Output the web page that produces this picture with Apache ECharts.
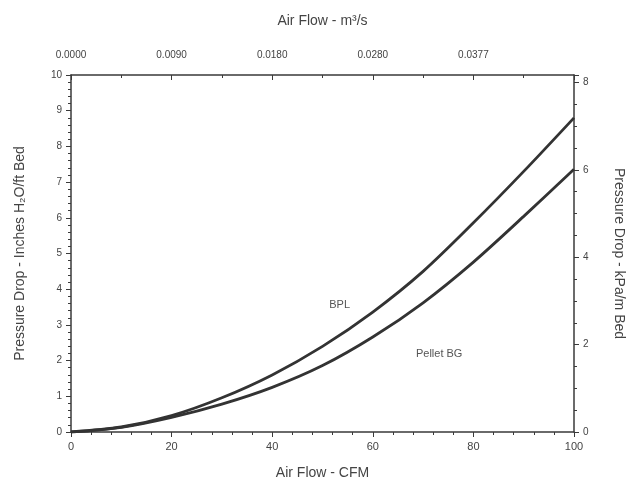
<!DOCTYPE html>
<html>
<head>
<meta charset="utf-8">
<script src="https://cdn.jsdelivr.net/npm/echarts@6/dist/echarts.min.js"></script>
<style>
  html, body { margin: 0; padding: 0; background: #fff; }
  #main { width: 634px; height: 489px; }
</style>
</head>
<body>
<div id="main"></div>
<script>
// air flow (CFM) sample points
var cfm = [0, 10, 20, 30, 40, 50, 60, 70, 80, 90, 100];
// pressure drop, inches H2O / ft bed
var bpl = [0, 0.14, 0.46, 0.96, 1.6, 2.4, 3.36, 4.5, 5.86, 7.3, 8.8];
var pelletBG = [0, 0.13, 0.41, 0.78, 1.25, 1.86, 2.66, 3.62, 4.76, 6.04, 7.36];
// top axis labels (m3/s) at 0, 20, 40, 60, 80 CFM
var topLabels = ['0.0000', '0.0090', '0.0180', '0.0280', '0.0377'];
// right axis: kPa/m, 10 in/ft = 8.172 kPa/m
var rightMax = 8.172;

var axisColor = '#3a3a3a';
var textColor = '#444';
var font = 'Liberation Sans';

function pairs(xs, ys) {
    var out = [];
    for (var i = 0; i < xs.length; i++) {
        out.push([xs[i], ys[i]]);
    }
    return out;
}

// curve label placed at a data coordinate
function curveLabel(x, y, text) {
    return {
        symbol: 'circle',
        symbolSize: 1,
        itemStyle: { color: 'rgba(0,0,0,0)' },
        label: { show: true, position: 'inside', color: '#555', fontSize: 11, fontFamily: font, formatter: text },
        data: [{ coord: [x, y] }]
    };
}

var chart = echarts.init(document.getElementById('main'));

var option = {
    backgroundColor: '#fff',
    animation: false,
    textStyle: { fontFamily: font },
    grid: { left: 71, right: 59, top: 75, bottom: 57 },
    xAxis: [{
        type: 'value',
        position: 'bottom',
        min: 0,
        max: 100,
        interval: 20,
        name: 'Air Flow - CFM',
        nameLocation: 'middle',
        nameGap: 34,
        nameTextStyle: { color: textColor, fontSize: 14, fontFamily: font },
        axisLine: { show: true, onZero: false, lineStyle: { color: axisColor, width: 1.5 } },
        axisTick: { show: true, length: 5, lineStyle: { color: axisColor } },
        minorTick: { show: true, splitNumber: 5, length: 3, lineStyle: { color: axisColor } },
        axisLabel: { color: textColor, fontSize: 11, margin: 9 },
        splitLine: { show: false }
    }, {
        type: 'value',
        position: 'top',
        min: 0,
        max: 100,
        interval: 20,
        name: 'Air Flow - m³/s',
        nameLocation: 'middle',
        nameGap: 47,
        nameTextStyle: { color: textColor, fontSize: 14, fontFamily: font },
        axisLine: { show: true, onZero: false, lineStyle: { color: axisColor, width: 1.5 } },
        axisTick: { show: true, length: 5, inside: true, lineStyle: { color: axisColor } },
        minorTick: { show: true, splitNumber: 2, length: 3, lineStyle: { color: axisColor } },
        axisLabel: {
            color: textColor,
            fontSize: 10,
            margin: 15,
            formatter: function(v) {
                var i = Math.round(v / 20);
                return topLabels[i] || '';
            }
        },
        splitLine: { show: false }
    }],
    yAxis: [{
        type: 'value',
        position: 'left',
        min: 0,
        max: 10,
        interval: 1,
        name: 'Pressure Drop - Inches H₂O/ft Bed',
        nameLocation: 'middle',
        nameGap: 44,
        nameTextStyle: { color: textColor, fontSize: 14, fontFamily: font },
        axisLine: { show: true, onZero: false, lineStyle: { color: axisColor, width: 1.5 } },
        axisTick: { show: true, length: 5, lineStyle: { color: axisColor } },
        minorTick: { show: true, splitNumber: 5, length: 3, lineStyle: { color: axisColor } },
        axisLabel: { color: textColor, fontSize: 10, margin: 9 },
        splitLine: { show: false }
    }, {
        type: 'value',
        position: 'right',
        min: 0,
        max: rightMax,
        interval: 2,
        name: 'Pressure Drop - kPa/m Bed',
        nameLocation: 'middle',
        nameGap: 38,
        nameRotate: -90,
        nameTextStyle: { color: textColor, fontSize: 14, fontFamily: font },
        axisLine: { show: true, onZero: false, lineStyle: { color: axisColor, width: 1.5 } },
        axisTick: { show: true, length: 5, lineStyle: { color: axisColor } },
        minorTick: { show: true, splitNumber: 4, length: 3, lineStyle: { color: axisColor } },
        axisLabel: {
            color: textColor,
            fontSize: 10,
            margin: 9,
            formatter: function(v) {
                return v % 2 === 0 ? String(v) : '';
            }
        },
        splitLine: { show: false }
    }],
    series: [{
        name: 'BPL',
        type: 'line',
        data: pairs(cfm, bpl),
        smooth: 0.3,
        showSymbol: false,
        lineStyle: { color: '#333', width: 2.8 },
        markPoint: curveLabel(53.4, 3.56, 'BPL')
    }, {
        name: 'Pellet BG',
        type: 'line',
        data: pairs(cfm, pelletBG),
        smooth: 0.3,
        showSymbol: false,
        lineStyle: { color: '#333', width: 2.8 },
        markPoint: curveLabel(73.2, 2.18, 'Pellet BG')
    }]
};

chart.setOption(option);
</script>
</body>
</html>
